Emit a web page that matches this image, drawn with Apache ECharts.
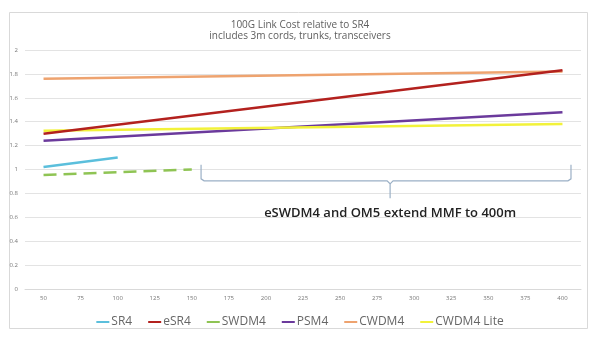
<!DOCTYPE html>
<html>
<head>
<meta charset="utf-8">
<script src="https://cdn.jsdelivr.net/npm/echarts@6/dist/echarts.min.js"></script>
<style>html,body{margin:0;padding:0;background:#fff}#c{width:600px;height:338px}</style>
</head>
<body>
<div id="c"></div>
<script>
const categories = ['50','75','100','125','150','175','200','225','250','275','300','325','350','375','400'];
const N = null;
const sr4      = [1.02, N, 1.10, N, N, N, N, N, N, N, N, N, N, N, N];
const esr4     = [1.30, N, N, N, N, N, N, N, N, N, N, N, N, N, 1.83];
const swdm4    = [0.955, N, N, N, 1.00, N, N, N, N, N, N, N, N, N, N];
const psm4     = [1.24, N, N, N, N, N, N, N, N, N, N, N, N, N, 1.48];
const cwdm4    = [1.76, N, N, N, N, N, N, N, N, N, N, N, N, N, 1.82];
const cwdm4Lite= [1.325, N, N, N, N, N, N, N, N, N, N, N, N, N, 1.38];
const seriesNames = ['SR4','eSR4','SWDM4','PSM4','CWDM4','CWDM4 Lite'];
const titleText = '100G Link Cost relative to SR4';
const subtitleText = 'includes 3m cords, trunks, transceivers';
const noteText = 'eSWDM4 and OM5 extend MMF to 400m';

const colors = ['#5bbfdc','#b3211e','#8fc454','#6b3a9c','#eea36f','#f2f23a'];
const dataSets = [sr4, esr4, swdm4, psm4, cwdm4, cwdm4Lite];
const font = 'Open Sans, Liberation Sans, sans-serif';

const chart = echarts.init(document.getElementById('c'));
const series = dataSets.map((d, i) => ({
  name: seriesNames[i],
  type: 'line',
  data: d,
  connectNulls: true,
  showSymbol: false,
  symbol: 'none',
  z: [1,6,2,3,5,4][i],
  lineStyle: { width: 2.5, color: colors[i], type: i === 2 ? [13, 7] : 'solid', cap: 'butt' },
  itemStyle: { color: colors[i] },
  animation: false
}));

chart.setOption({
  animation: false,
  backgroundColor: '#fff',
  title: {
    text: titleText,
    subtext: subtitleText,
    left: 'center',
    top: 15,
    itemGap: 1,
    textStyle: { fontSize: 10, fontWeight: 'normal', color: '#5e5e5e', fontFamily: font },
    subtextStyle: { fontSize: 10, color: '#5e5e5e', fontFamily: font }
  },
  legend: {
    data: seriesNames,
    bottom: 5,
    left: 'center',
    icon: 'rect',
    itemWidth: 13,
    itemHeight: 2,
    itemGap: 16,
    textStyle: { fontSize: 12, color: '#666', fontFamily: font, padding: [0, 0, 0, -3] }
  },
  grid: { left: 25, right: 19, top: 50, bottom: 49, containLabel: false },
  xAxis: {
    type: 'category',
    data: categories,
    boundaryGap: true,
    axisLine: { show: true, lineStyle: { color: '#d9d9d9' } },
    axisTick: { show: false },
    axisLabel: { fontSize: 6, color: '#777', margin: 6, fontFamily: font }
  },
  yAxis: {
    type: 'value',
    min: 0, max: 2, interval: 0.2,
    axisLine: { show: false },
    axisTick: { show: false },
    axisLabel: { fontSize: 6, color: '#777', margin: 7, fontFamily: font },
    splitLine: { lineStyle: { color: '#e3e3e3', width: 1 } }
  },
  series: series
});

function xAt(idx) {
  const p0 = chart.convertToPixel({ xAxisIndex: 0 }, 0);
  const p1 = chart.convertToPixel({ xAxisIndex: 0 }, 1);
  return p0 + idx * (p1 - p0);
}
function yAt(v) { return chart.convertToPixel({ yAxisIndex: 0 }, v); }

const xl = xAt(4.25), xr = xAt(14.23), xm = xAt(9.35);
const yTop = yAt(1.04), yMid = yAt(0.905), yTip = yAt(0.76), yText = yAt(0.635);
const braceStyle = { stroke: '#9bb0c6', lineWidth: 1.2, fill: null };

chart.setOption({
  graphic: [
    { type: 'rect', shape: { x: 9.5, y: 12.5, width: 578, height: 316 }, style: { stroke: '#d9d9d9', fill: null, lineWidth: 1 }, silent: true, z: 0 },
    { type: 'polyline', shape: { points: [[xl, yTop], [xl, yMid - 2], [xl + 3, yMid], [xm - 3, yMid], [xm, yMid + 3], [xm, yTip]] }, style: braceStyle, silent: true },
    { type: 'polyline', shape: { points: [[xm, yMid + 3], [xm + 3, yMid], [xr - 3, yMid], [xr, yMid - 2], [xr, yTop]] }, style: braceStyle, silent: true },
    { type: 'text', x: xm, y: yText, style: { text: noteText, fill: '#222', font: '600 13px ' + font, textAlign: 'center', textVerticalAlign: 'middle' }, silent: true }
  ]
});
</script>
</body>
</html>
